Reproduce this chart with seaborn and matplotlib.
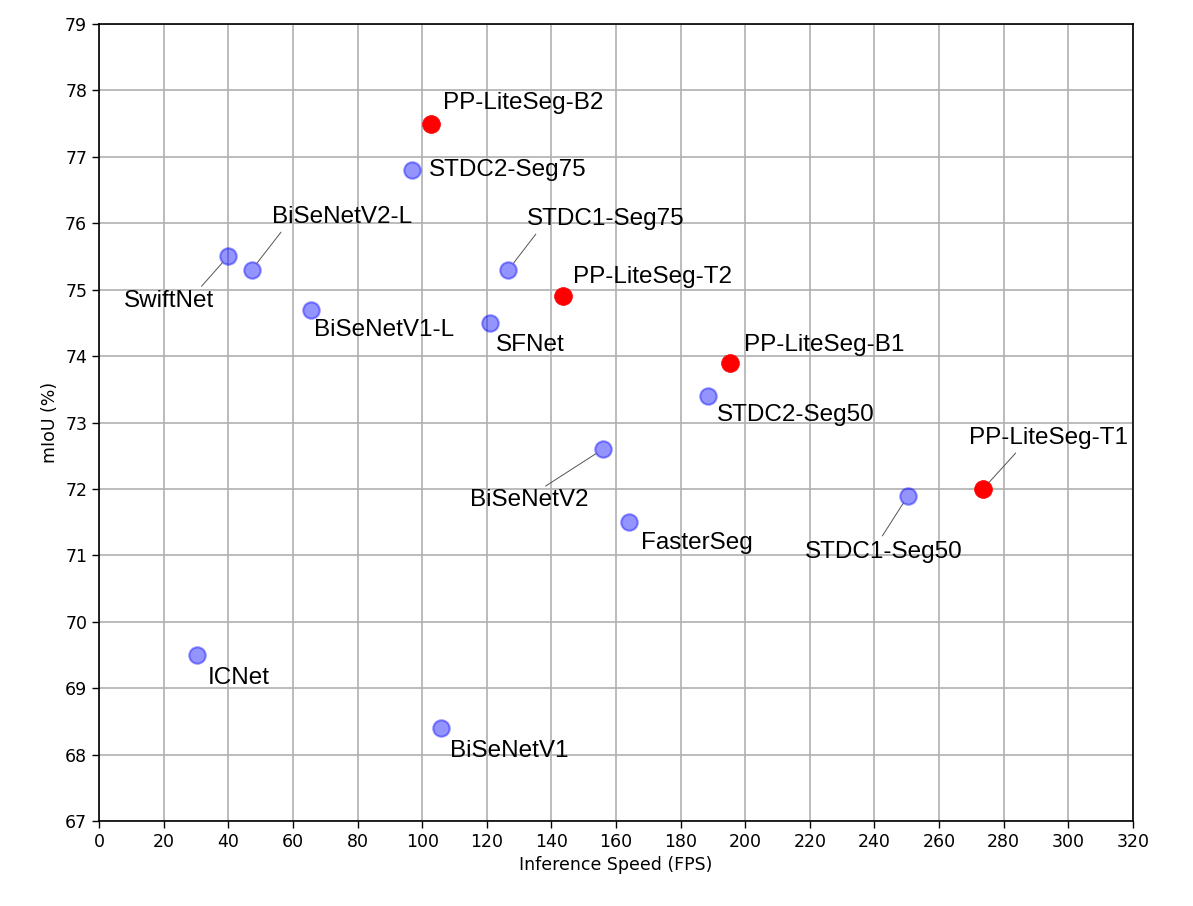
import numpy as np
import pandas as pd
import seaborn as sns
import matplotlib.pyplot as plt

# model names, speed (FPS) and accuracy (mIoU %)
names = ['PP-LiteSeg-B2', 'STDC2-Seg75', 'SwiftNet', 'BiSeNetV2-L', 'STDC1-Seg75',
         'PP-LiteSeg-T2', 'BiSeNetV1-L', 'SFNet', 'PP-LiteSeg-B1', 'STDC2-Seg50',
         'BiSeNetV2', 'FasterSeg', 'STDC1-Seg50', 'PP-LiteSeg-T1', 'ICNet', 'BiSeNetV1']
fps = [102.6, 97.0, 39.9, 47.3, 126.7,
       143.6, 65.5, 121.0, 195.4, 188.4,
       156.0, 163.9, 250.4, 273.6, 30.4, 105.8]
miou = [77.5, 76.8, 75.5, 75.3, 75.3,
        74.9, 74.7, 74.5, 73.9, 73.4,
        72.6, 71.5, 71.9, 72.0, 69.5, 68.4]
group = ['ours', 'other', 'other', 'other', 'other',
         'ours', 'other', 'other', 'ours', 'other',
         'other', 'other', 'other', 'ours', 'other', 'other']

df = pd.DataFrame({'name': names, 'fps': fps, 'miou': miou, 'group': group})

# label offsets in pixels (dx, dy) and where the leader line meets the text (None = no line)
label_pos = {
    'PP-LiteSeg-B2': (12, 21, None), 'STDC2-Seg75': (16, 0, None),
    'SwiftNet': (-59, -45, (0.82, 1.0)), 'BiSeNetV2-L': (90, 53, (0.09, 0.0)),
    'STDC1-Seg75': (97, 51, (0.08, 0.0)), 'PP-LiteSeg-T2': (10, 19, None),
    'BiSeNetV1-L': (3, -20, None), 'SFNet': (6, -22, None),
    'PP-LiteSeg-B1': (14, 18, None), 'STDC2-Seg50': (9, -19, None),
    'BiSeNetV2': (-74, -51, (0.6, 1.0)), 'FasterSeg': (12, -21, None),
    'STDC1-Seg50': (-24, -56, (0.47, 1.0)), 'PP-LiteSeg-T1': (65, 51, (0.32, 0.0)),
    'ICNet': (11, -23, None), 'BiSeNetV1': (9, -23, None),
}

sns.set_style('ticks')
plt.rcParams.update({'text.color': 'black', 'axes.labelcolor': 'black',
                     'xtick.color': 'black', 'ytick.color': 'black'})
fig, ax = plt.subplots(figsize=(11.93, 9.06), dpi=100)
fig.subplots_adjust(left=0.083, right=0.9497, bottom=0.0938, top=0.9735)

others = df[df['group'] == 'other']
ours = df[df['group'] == 'ours']
sns.scatterplot(data=others, x='fps', y='miou', color='blue', alpha=0.42,
                s=140, edgecolor='blue', linewidth=1.5, ax=ax, zorder=3)
sns.scatterplot(data=ours, x='fps', y='miou', color='red', s=165,
                edgecolor='red', linewidth=0.5, ax=ax, zorder=3)

for _, row in df.iterrows():
    dx, dy, rel = label_pos[row['name']]
    kw = dict(textcoords='offset points', xytext=(dx * 0.72, dy * 0.72),
              fontsize=17.5, family='Liberation Sans', va='center',
              ha='left' if rel is None else 'center', zorder=4)
    if rel is not None:
        kw['arrowprops'] = dict(arrowstyle='-', color='#555555', lw=0.7,
                                relpos=rel, patchA=None, shrinkA=4, shrinkB=6)
    ax.annotate(row['name'], xy=(row['fps'], row['miou']), **kw)

ax.set_xlim(0, 320)
ax.set_ylim(67, 79)
ax.set_xticks(np.arange(0, 321, 20))
ax.set_yticks(np.arange(67, 80, 1))
ax.grid(True, color='#b0b0b0', linewidth=1.2)
ax.set_axisbelow(True)
ax.tick_params(labelsize=12.5, direction='out', length=5, width=1, colors='black')
for sp in ax.spines.values():
    sp.set_color('black')
    sp.set_linewidth(1.2)
ax.set_xlabel('Inference Speed (FPS)', fontsize=12.5)
ax.set_ylabel('mIoU (%)', fontsize=12.5)

fig.savefig('out.png', dpi=100)
